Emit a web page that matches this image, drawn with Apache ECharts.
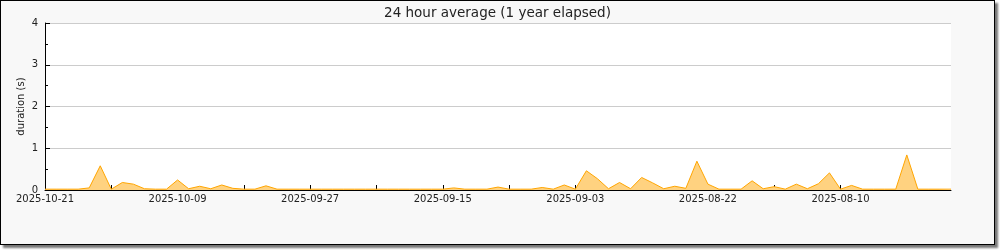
<!DOCTYPE html>
<html>
<head>
<meta charset="utf-8">
<script src="https://cdn.jsdelivr.net/npm/echarts@6/dist/echarts.min.js"></script>
<style>
  html, body { margin: 0; padding: 0; background: #ffffff; }
  #frame {
    position: absolute; left: 0; top: 0;
    width: 995px; height: 245px;
    box-sizing: border-box;
    border: 1px solid #000;
    background: #f8f8f8;
    box-shadow: 3px 3px 2px #777;
  }
  #chart { width: 993px; height: 243px; }
</style>
</head>
<body>
<div id="frame"><div id="chart"></div></div>
<script>
// Data: 24 hour averages, one point per day going back from the start date
const titleText = '24 hour average (1 year elapsed)';
const yAxisName = 'duration (s)';
const startDate = '2025-10-21';
const dayCount = 83;
const durations = [
  0.02, 0.02, 0.02, 0.02, 0.05, 0.58, 0.02, 0.18, 0.14, 0.03,
  0.02, 0.02, 0.24, 0.03, 0.09, 0.03, 0.12, 0.04, 0.02, 0.02,
  0.10, 0.02, 0.02, 0.02, 0.02, 0.02, 0.02, 0.02, 0.02, 0.02,
  0.02, 0.02, 0.02, 0.02, 0.02, 0.02, 0.02, 0.05, 0.02, 0.02,
  0.02, 0.07, 0.02, 0.02, 0.02, 0.06, 0.02, 0.12, 0.02, 0.46,
  0.27, 0.03, 0.18, 0.03, 0.30, 0.17, 0.03, 0.09, 0.04, 0.69,
  0.14, 0.02, 0.02, 0.02, 0.22, 0.03, 0.08, 0.02, 0.14, 0.03,
  0.15, 0.41, 0.02, 0.11, 0.02, 0.02, 0.02, 0.02, 0.84, 0.02,
  0.02, 0.02, 0.02
];
const yTicks = [0, 1, 2, 3, 4];

// Category labels: dates counting back one day at a time
const categories = [];
(function () {
  const p = startDate.split('-').map(Number);
  const base = Date.UTC(p[0], p[1] - 1, p[2]);
  for (let i = 0; i < dayCount; i++) {
    const d = new Date(base - i * 86400000);
    const s = d.getUTCFullYear() + '-' + String(d.getUTCMonth() + 1).padStart(2, '0') + '-' + String(d.getUTCDate()).padStart(2, '0');
    categories.push(s);
  }
})();

const FONT = 'DejaVu Sans';
const chart = echarts.init(document.getElementById('chart'), null, { renderer: 'canvas' });
chart.setOption({
  animation: false,
  backgroundColor: '#f8f8f8',
  title: {
    text: titleText,
    left: 'center',
    top: 0,
    textStyle: { fontFamily: FONT, fontSize: 13.5, fontWeight: 'normal', color: '#222' }
  },
  grid: {
    left: 44, right: 43, top: 22, bottom: 54,
    show: true, backgroundColor: '#ffffff', borderWidth: 0,
    containLabel: false
  },
  xAxis: {
    type: 'category',
    data: categories,
    boundaryGap: false,
    axisLine: { show: true, lineStyle: { color: '#000', width: 1 } },
    axisTick: { show: true, inside: true, length: 5, interval: 5, lineStyle: { color: '#000' } },
    axisLabel: { interval: 11, margin: 4, fontFamily: FONT, fontSize: 10, color: '#222' },
    splitLine: { show: false }
  },
  yAxis: {
    type: 'value',
    min: yTicks[0], max: yTicks[yTicks.length - 1], interval: 1,
    name: yAxisName,
    nameLocation: 'middle',
    nameGap: 19,
    nameMoveOverlap: false,
    nameRotate: 90,
    nameTextStyle: { fontFamily: FONT, fontSize: 10, color: '#222' },
    axisLine: { show: true, lineStyle: { color: '#000', width: 1 } },
    axisTick: { show: true, inside: true, length: 5, lineStyle: { color: '#000' } },
    minorTick: { show: true, splitNumber: 2, length: 3, lineStyle: { color: '#000' } },
    axisLabel: { margin: 7, fontFamily: FONT, fontSize: 10, color: '#222' },
    splitLine: { show: true, lineStyle: { color: '#cccccc', width: 1 } }
  },
  series: [{
    type: 'line',
    data: durations,
    showSymbol: false,
    symbol: 'none',
    lineStyle: { color: '#ffa500', width: 1 },
    areaStyle: { color: '#ffd280', opacity: 1 },
    z: 3
  }]
});
</script>
</body>
</html>
